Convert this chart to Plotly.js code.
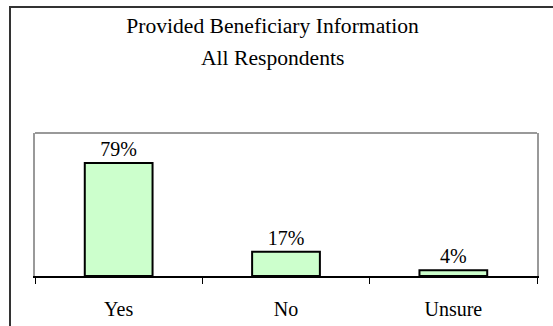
<!DOCTYPE html>
<html>
<head>
<meta charset="utf-8">
<script src="https://cdn.plot.ly/plotly-3.0.1.min.js"></script>
<style>
  html, body { margin: 0; padding: 0; background: #fff; }
  #wrap { position: relative; width: 553px; height: 326px; overflow: hidden; }
  #chart { width: 553px; height: 326px; }
  #frame { position: absolute; left: 9px; top: 6px; width: 700px; height: 500px;
           border-left: 2px solid #333; border-top: 2px solid #333; pointer-events: none; }
</style>
</head>
<body>
<div id="wrap">
  <div id="chart"></div>
  <div id="frame"></div>
</div>
<script>
const titleLine1 = 'Provided Beneficiary Information';
const titleLine2 = 'All Respondents';
const categories = ['Yes', 'No', 'Unsure'];
const percentages = [79, 17, 4];

const serif = 'Liberation Serif, Times New Roman, serif';

const trace = {
  type: 'bar',
  x: categories,
  y: percentages,
  width: 0.405,
  marker: { color: '#CCFFCC', line: { color: '#000', width: 2 } },
  text: percentages.map(v => v + '%'),
  textposition: 'outside',
  textfont: { family: serif, size: 20, color: '#000' },
  cliponaxis: false,
  hoverinfo: 'skip'
};

const layout = {
  width: 553, height: 326,
  margin: { l: 35, r: 16, t: 133, b: 50 },
  paper_bgcolor: '#fff', plot_bgcolor: '#fff',
  showlegend: false,
  font: { family: serif, size: 20, color: '#000' },
  title: {
    text: titleLine1,
    font: { family: serif, size: 21.6, color: '#000' },
    x: 0.4928, xanchor: 'center', xref: 'container',
    y: 1 - 25.5 / 326, yanchor: 'middle', yref: 'container'
  },
  annotations: [{
    text: titleLine2, showarrow: false,
    xref: 'paper', yref: 'paper',
    x: (272.5 - 35) / 502, xanchor: 'center',
    y: (276 - 58.5) / 143, yanchor: 'middle',
    font: { family: serif, size: 21.6, color: '#000' }
  }],
  xaxis: {
    type: 'category',
    showline: true, linecolor: '#000', linewidth: 1.5,
    ticks: 'outside', tickson: 'boundaries', ticklen: 6, tickcolor: '#000', tickwidth: 1,
    tickfont: { family: serif, size: 20, color: '#000' },
    ticklabelstandoff: 14,
    showgrid: false, zeroline: false, fixedrange: true
  },
  yaxis: {
    range: [0, 100],
    showticklabels: false, ticks: '', showgrid: false, zeroline: false,
    showline: true, mirror: true, linecolor: '#999', linewidth: 2, fixedrange: true
  },
  shapes: [{
    type: 'line', xref: 'paper', yref: 'paper', x0: 0, x1: 1, y0: 1, y1: 1,
    line: { color: '#999', width: 2 }
  }]
};

Plotly.newPlot('chart', [trace], layout, { displayModeBar: false, staticPlot: true });
</script>
</body>
</html>
